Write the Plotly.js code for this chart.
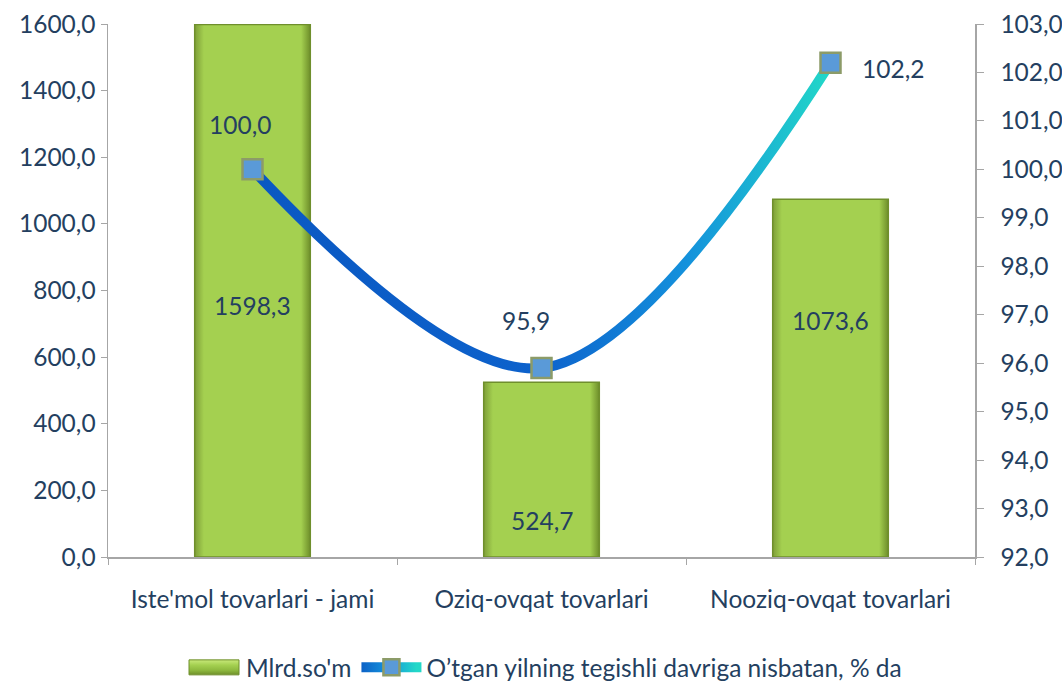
<!DOCTYPE html>
<html>
<head>
<meta charset="utf-8">
<script src="https://cdn.plot.ly/plotly-3.0.1.min.js"></script>
<style>html,body{margin:0;padding:0;background:#fff}#chart{width:1062px;height:684px}</style>
</head>
<body>
<div id="chart"></div>
<script>
const categories = ["Iste'mol tovarlari - jami", "Oziq-ovqat tovarlari", "Nooziq-ovqat tovarlari"];
const barValues = [1598.3, 524.7, 1073.6];
const lineValues = [100.0, 95.9, 102.2];
const barName = "Mlrd.so'm";
const lineName = "O\u2019tgan yilning tegishli davriga nisbatan, % da";
// label placement (positions only)
const barLabelY = [756, 110, 711];
const lineLabelShift = [[-13, 45], [-16, 48], [62, -6]];

const fmt = v => v.toFixed(1).replace('.', ',');
const txtColor = '#243F60';
const fontFam = 'Lato, "Open Sans", sans-serif';
const fs = 24.5;

const traces = [
  {
    type: 'bar', x: categories, y: barValues, name: barName,
    width: 0.4,
    marker: {color: '#A2CD4E', line: {color: '#6F8F2C', width: 1.5}},
    hoverinfo: 'skip'
  },
  {
    type: 'scatter', mode: 'lines+markers', x: categories, y: lineValues, name: lineName,
    yaxis: 'y2',
    line: {shape: 'spline', smoothing: 1.0, width: 10, color: '#0E62C9'},
    marker: {symbol: 'square', size: 20, color: '#5A9AD8', line: {color: '#8C9B68', width: 2.5}},
    hoverinfo: 'skip'
  }
];

const annotations = [];
categories.forEach((c, i) => {
  annotations.push({x: c, y: barLabelY[i], xref: 'x', yref: 'y', text: fmt(barValues[i]),
    showarrow: false, font: {size: fs, color: txtColor, family: fontFam}});
  annotations.push({x: c, y: lineValues[i], xref: 'x', yref: 'y2', text: fmt(lineValues[i]),
    showarrow: false, xshift: lineLabelShift[i][0], yshift: lineLabelShift[i][1],
    font: {size: fs, color: txtColor, family: fontFam}});
});

const layout = {
  width: 1062, height: 684,
  margin: {l: 108, r: 87, t: 24, b: 127, autoexpand: false},
  paper_bgcolor: '#fff', plot_bgcolor: '#fff',
  separators: ', ',
  font: {family: fontFam, size: fs, color: txtColor},
  showlegend: true,
  legend: {orientation: 'h', x: 0.5, xanchor: 'center', y: -0.165, yanchor: 'top',
    font: {size: fs, color: txtColor, family: fontFam}, tracegroupgap: 0, itemwidth: 60},
  xaxis: {
    type: 'category', showgrid: false, zeroline: false,
    showline: true, linecolor: '#A6A6A6', linewidth: 1.5,
    ticks: 'outside', tickson: 'boundaries', ticklen: 6, tickcolor: '#A6A6A6',
    ticklabelstandoff: 20,
    tickfont: {size: fs, color: txtColor, family: fontFam}
  },
  yaxis: {
    range: [0, 1600], dtick: 200, tickformat: '.1f', showgrid: false, zeroline: false,
    showline: true, linecolor: '#A6A6A6', linewidth: 1.5,
    ticks: 'outside', ticklen: 6, tickcolor: '#A6A6A6',
    tickfont: {size: fs, color: txtColor, family: fontFam}
  },
  yaxis2: {
    range: [92, 103], dtick: 1, tickformat: '.1f', overlaying: 'y', side: 'right',
    showgrid: false, zeroline: false,
    showline: true, linecolor: '#A6A6A6', linewidth: 1.5,
    ticks: 'outside', ticklen: 7, tickcolor: '#A6A6A6',
    ticklabelstandoff: 12,
    tickfont: {size: fs, color: txtColor, family: fontFam}
  },
  annotations: annotations
};

function decorate(gd) {
  const svg = gd.querySelector('svg.main-svg');
  const ns = 'http://www.w3.org/2000/svg';
  let defs = svg.querySelector('defs');
  if (!defs) { defs = document.createElementNS(ns, 'defs'); svg.insertBefore(defs, svg.firstChild); }
  function grad(id, stops, attrs) {
    let g = defs.querySelector('#' + id);
    if (g) return g;
    g = document.createElementNS(ns, 'linearGradient');
    g.setAttribute('id', id);
    Object.keys(attrs).forEach(k => g.setAttribute(k, attrs[k]));
    stops.forEach(s => {
      const st = document.createElementNS(ns, 'stop');
      st.setAttribute('offset', s[0]); st.setAttribute('stop-color', s[1]);
      g.appendChild(st);
    });
    defs.appendChild(g);
    return g;
  }
  grad('barGrad', [['0', '#7E9E38'], ['0.08', '#A4D050'], ['0.92', '#A4D050'], ['1', '#6E8E2A']], {x1: 0, y1: 0, x2: 1, y2: 0});
  grad('legBarGrad', [['0', '#C8E87A'], ['0.35', '#A4D050'], ['0.7', '#8DB83E'], ['1', '#6E8E2A']], {x1: 0, y1: 0, x2: 0, y2: 1});
  grad('lineGrad', [['0', '#0A58C2'], ['0.5', '#0D62CC'], ['0.75', '#1491DC'], ['1', '#22D8C8']], {x1: 0, y1: 0, x2: 1, y2: 0});
  grad('legLineGrad', [['0', '#0A58C2'], ['0.5', '#1491DC'], ['1', '#22D8C8']], {gradientUnits: 'userSpaceOnUse', x1: 0, y1: 0, x2: 60, y2: 0});
  gd.querySelectorAll('.barlayer .point path').forEach(p => { p.style.fill = 'url(#barGrad)'; });
  gd.querySelectorAll('.scatterlayer .js-line').forEach(p => { p.style.stroke = 'url(#lineGrad)'; });
  const legTraces = gd.querySelectorAll('.legend .traces');
  if (legTraces.length) {
    legTraces[0].querySelectorAll('.legendpoints path').forEach(p => {
      p.setAttribute('d', 'M-22,-7.5H28V7.5H-22Z');
      p.style.fill = 'url(#legBarGrad)';
      p.style.stroke = '#6F8F2C';
      p.style.strokeWidth = '1px';
    });
  }
  if (legTraces.length > 1) {
    legTraces[1].querySelectorAll('.legendlines path').forEach(p => {
      p.style.stroke = 'url(#legLineGrad)';
    });
  }
}

Plotly.newPlot('chart', traces, layout, {displayModeBar: false, staticPlot: true}).then(gd => {
  decorate(gd);
  gd.on('plotly_afterplot', () => decorate(gd));
  setTimeout(() => decorate(gd), 200);
});
</script>
</body>
</html>
